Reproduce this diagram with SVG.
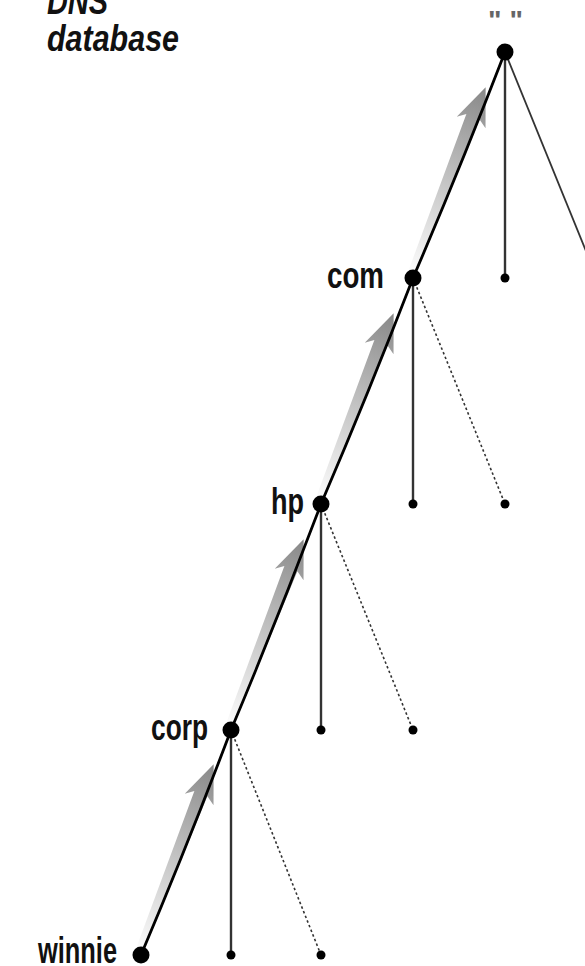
<svg xmlns="http://www.w3.org/2000/svg" width="585" height="966" viewBox="0 0 585 966">
<style>
.lbl{font-family:"Liberation Sans",Arial,sans-serif;font-weight:bold;font-size:37px;fill:#111}
.title{font-family:"Liberation Sans",Arial,sans-serif;font-weight:bold;font-style:italic;font-size:36px;fill:#111}
.main{fill:none;stroke:#000;stroke-width:2.8}
.vert{stroke:#333;stroke-width:2.4}
.dot{stroke:#333;stroke-width:1.6;stroke-dasharray:2.5 2.5}
.thin{stroke:#333;stroke-width:1.8}
.big{fill:#000}
.small{fill:#000}
</style>
<defs>
<linearGradient id="g" gradientUnits="userSpaceOnUse" x1="0" y1="0" x2="204" y2="0">
<stop offset="0" stop-color="#ffffff"/>
<stop offset="0.25" stop-color="#e2e2e2"/>
<stop offset="0.7" stop-color="#acacac"/>
<stop offset="1" stop-color="#888888"/>
</linearGradient>
<path id="arr" d="M6,-7 L172,-11 L166,-19 L204,-3 L166,12 L172,3 L6,1 Z" fill="url(#g)"/>
</defs>
<text class="title" x="47" y="14" textLength="61" lengthAdjust="spacingAndGlyphs">DNS</text>
<text class="title" x="47" y="51" textLength="132" lengthAdjust="spacingAndGlyphs">database</text>
<g id="arrows">
<use href="#arr" transform="translate(141,955) rotate(-68.3)"/>
<use href="#arr" transform="translate(231,730) rotate(-68.3)"/>
<use href="#arr" transform="translate(321,504) rotate(-68.3)"/>
<use href="#arr" transform="translate(413,278) rotate(-68.3)"/>
</g>
<g id="connectors">
<path class="main" d="M141,955 Q188,844 231,730 Q278,618 321,504 Q369,392 413,278 Q461,166 505,52"/>
<line class="vert" x1="505" y1="52" x2="505" y2="278"/>
<line class="thin" x1="505" y1="52" x2="597" y2="278"/>
<line class="vert" x1="413" y1="278" x2="413" y2="504"/>
<line class="dot" x1="413" y1="278" x2="505" y2="504"/>
<line class="vert" x1="321" y1="504" x2="321" y2="730"/>
<line class="dot" x1="321" y1="504" x2="413" y2="730"/>
<line class="vert" x1="231" y1="730" x2="231" y2="955"/>
<line class="dot" x1="231" y1="730" x2="321" y2="955"/>
</g>
<g id="root"><circle class="big" cx="505" cy="52" r="8.5"/><text x="488" y="29" font-family="Liberation Sans,Arial,sans-serif" font-weight="bold" font-size="26" fill="#666" textLength="35" lengthAdjust="spacingAndGlyphs">" "</text></g>
<g id="com"><circle class="big" cx="413" cy="278" r="8.5"/><text class="lbl" x="327" y="288" textLength="57" lengthAdjust="spacingAndGlyphs">com</text></g>
<g id="hp"><circle class="big" cx="321" cy="504" r="8.5"/><text class="lbl" x="271" y="514" textLength="33" lengthAdjust="spacingAndGlyphs">hp</text></g>
<g id="corp"><circle class="big" cx="231" cy="730" r="8.5"/><text class="lbl" x="151" y="740" textLength="57" lengthAdjust="spacingAndGlyphs">corp</text></g>
<g id="winnie"><circle class="big" cx="141" cy="955" r="8.5"/><text class="lbl" x="38" y="963" textLength="79" lengthAdjust="spacingAndGlyphs">winnie</text></g>
<g id="leaves">
<circle class="small" cx="505" cy="278" r="4.5"/>
<circle class="small" cx="413" cy="504" r="4.5"/>
<circle class="small" cx="505" cy="504" r="4.5"/>
<circle class="small" cx="321" cy="730" r="4.5"/>
<circle class="small" cx="413" cy="730" r="4.5"/>
<circle class="small" cx="231" cy="955" r="4.5"/>
<circle class="small" cx="321" cy="955" r="4.5"/>
</g>
</svg>
